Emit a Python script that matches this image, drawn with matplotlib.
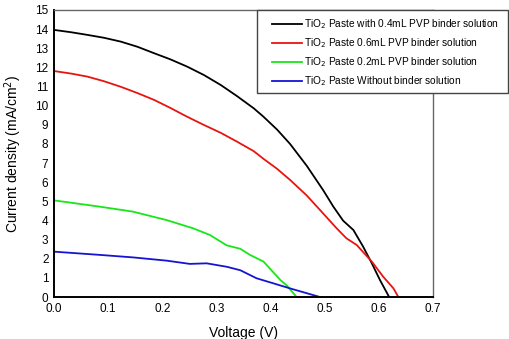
import matplotlib
matplotlib.use("Agg")
import matplotlib.pyplot as plt
from matplotlib.patches import Rectangle

plt.rcParams['font.family'] = ['Liberation Sans', 'DejaVu Sans']

# J-V curves: voltage (V) and current density (mA/cm^2)
v_04 = [0.0, 0.031, 0.0615, 0.092, 0.123, 0.154, 0.185, 0.215, 0.246, 0.277, 0.308, 0.338, 0.369,
        0.387, 0.412, 0.436, 0.467, 0.497, 0.516, 0.534, 0.553, 0.571, 0.587, 0.602, 0.619]
j_04 = [13.96, 13.84, 13.7, 13.55, 13.35, 13.08, 12.74, 12.42, 12.04, 11.6, 11.08, 10.5, 9.86,
        9.42, 8.75, 8.0, 6.85, 5.59, 4.72, 3.99, 3.5, 2.63, 1.76, 0.89, 0.0]

v_06 = [0.0, 0.031, 0.0615, 0.092, 0.123, 0.154, 0.185, 0.215, 0.246, 0.277, 0.308, 0.338, 0.369,
        0.387, 0.412, 0.436, 0.467, 0.497, 0.522, 0.540, 0.559, 0.587, 0.608, 0.627, 0.636]
j_06 = [11.81, 11.68, 11.52, 11.28, 10.99, 10.66, 10.3, 9.88, 9.42, 8.99, 8.58, 8.12, 7.62,
        7.22, 6.7, 6.12, 5.3, 4.37, 3.59, 3.07, 2.72, 1.85, 1.06, 0.45, 0.0]

v_02 = [0.0, 0.085, 0.146, 0.208, 0.257, 0.288, 0.319, 0.344, 0.362, 0.387, 0.418, 0.43, 0.448]
j_02 = [5.05, 4.72, 4.46, 4.02, 3.59, 3.24, 2.7, 2.52, 2.2, 1.85, 0.89, 0.6, 0.0]

v_00 = [0.0, 0.085, 0.146, 0.208, 0.251, 0.282, 0.319, 0.344, 0.374, 0.436, 0.491]
j_00 = [2.37, 2.2, 2.07, 1.9, 1.73, 1.76, 1.58, 1.4, 0.98, 0.45, 0.0]

labels = [
    "TiO$_2$ Paste with 0.4mL PVP binder solution",
    "TiO$_2$ Paste 0.6mL PVP binder solution",
    "TiO$_2$ Paste 0.2mL PVP binder solution",
    "TiO$_2$ Paste Without binder solution",
]
colors = ["#000000", "#e8140f", "#19e619", "#1414d2"]

x_ticks = [0.0, 0.1, 0.2, 0.3, 0.4, 0.5, 0.6, 0.7]
y_ticks = list(range(0, 16))

fig = plt.figure(figsize=(5.10, 3.39), dpi=100)
ax = fig.add_axes([54 / 510, 42 / 339, (433 - 54) / 510, (297 - 10) / 339])

series = [(v_04, j_04), (v_06, j_06), (v_02, j_02), (v_00, j_00)]
handles = []
for (v, j), c, lab in zip(series, colors, labels):
    h, = ax.plot(v, j, color=c, lw=1.3, label=lab, solid_joinstyle="round")
    handles.append(h)

ax.set_xlim(0, 0.7)
ax.set_ylim(0, 15)
ax.set_xticks(x_ticks)
ax.set_xticklabels([f"{t:.1f}" for t in x_ticks])
ax.set_yticks(y_ticks)
ax.tick_params(length=0, labelsize=8.5, pad=4)

for s in ("left", "bottom"):
    ax.spines[s].set_color("black")
    ax.spines[s].set_linewidth(1.4)
for s in ("top", "right"):
    ax.spines[s].set_color("#666666")
    ax.spines[s].set_linewidth(1.0)

ax.set_xlabel("Voltage (V)", fontsize=10, labelpad=8)
ax.set_ylabel("Current density (mA/cm$^2$)", fontsize=10, labelpad=8)

# legend box sits over the top-right corner of the plot and extends past it
box = Rectangle((257 / 510, 1 - 93 / 339), 251 / 510, 83 / 339,
                transform=fig.transFigure, facecolor="white",
                edgecolor="#444444", linewidth=1.0, zorder=3)
fig.patches.append(box)

leg = fig.legend(handles=handles, loc="upper left",
                 bbox_to_anchor=(272 / 510, 1 - 17.5 / 339),
                 fontsize=7.3, frameon=False,
                 handlelength=3.0, handletextpad=0.15, borderaxespad=0,
                 labelspacing=0.5, borderpad=0)
leg.set_zorder(4)

fig.savefig("out.png", dpi=100)
